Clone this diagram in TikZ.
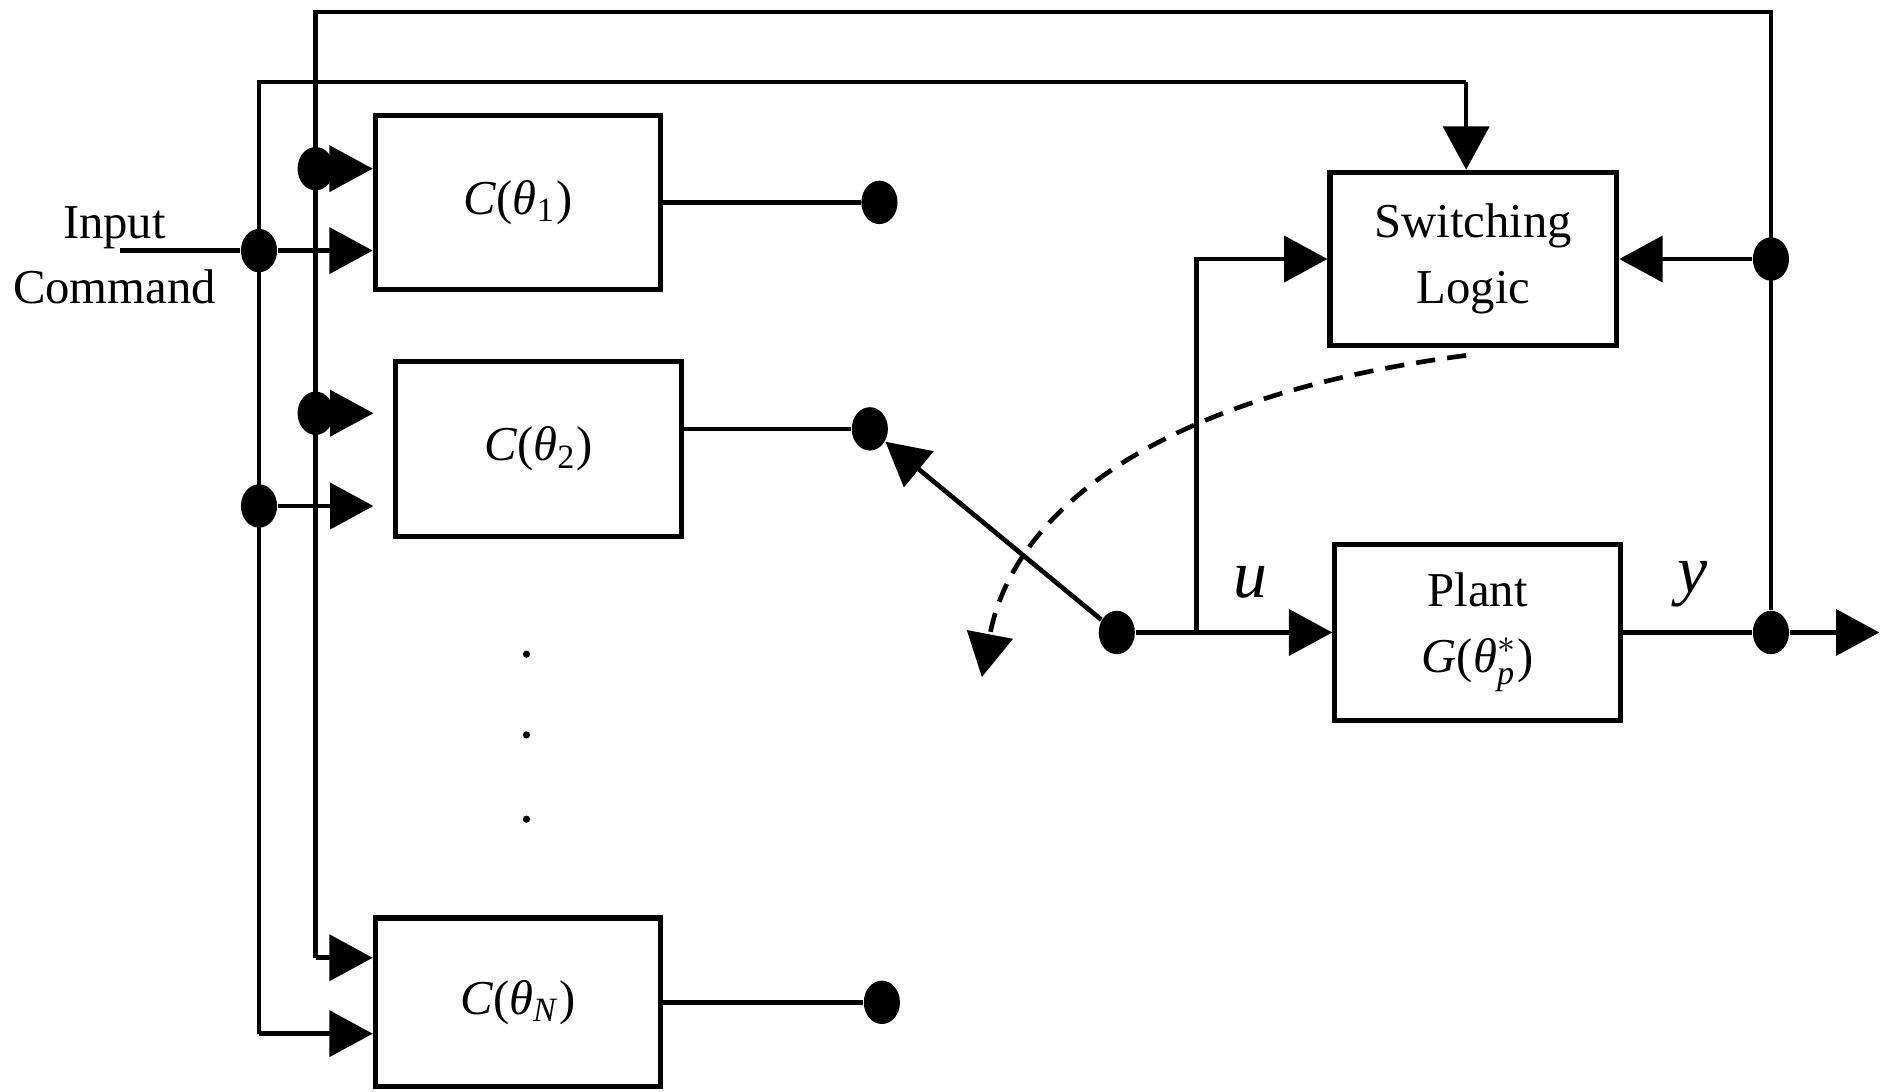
\documentclass[tikz,border=0pt]{standalone}
\usepackage{amsmath}
\usepackage{fontspec}
\setmainfont{Liberation Serif}
\usetikzlibrary{arrows.meta,shapes.geometric}
\tikzset{
  blk/.style={draw,line width=1.2pt,minimum width=2.37cm,minimum height=1.44cm,inner sep=0pt,
    font=\fontsize{11.5}{15.5}\selectfont,align=center},
  dot/.style={ellipse,fill,inner sep=0pt,minimum width=0.3cm,minimum height=0.36cm},
  sig/.style={line width=1.1pt},
  arr/.style={sig,-{Triangle[length=0.36cm,width=0.38cm]}},
}
\begin{document}
\begin{tikzpicture}
\useasboundingbox (0,0) rectangle (15.68,-9.06);
% blocks
\path (4.30,-1.68) node[blk] (C1) {\textit{C}(\textit{θ}\textsubscript{1})}
  (4.47,-3.725) node[blk,minimum width=2.38cm,minimum height=1.45cm] (C2) {\textit{C}(\textit{θ}\textsubscript{2})}
  (4.30,-8.32) node[blk,minimum height=1.40cm] (CN) {\textit{C}(\textit{θ}\textsubscript{\textit{N}})}
  (12.23,-2.15) node[blk,minimum width=2.38cm] (SL) {Switching\\Logic}
  (12.265,-5.25) node[blk,minimum height=1.46cm] (P) {Plant\\\textit{G}(\textit{θ}$_{\textit{p}}^{*}$)};
\node[align=center,font=\fontsize{11.5}{15.5}\selectfont] (ic) at (0.95,-2.12) {Input\\Command};
% corners and free ends
\path (1.00,-2.08) coordinate (in)
  (2.62,-0.10) coordinate (tl)
  (14.70,-0.10) coordinate (tr)
  (2.15,-0.68) coordinate (ml)
  (12.17,-0.68) coordinate (mr)
  (2.62,-7.95) coordinate (b1)
  (2.15,-8.58) coordinate (b2)
  (3.10,-3.43) coordinate (c2a)
  (3.10,-4.20) coordinate (c2b)
  (9.93,-5.25) coordinate (uj)
  (15.60,-5.25) coordinate (out)
  (12.17,-2.95) coordinate (ds)
  (8.15,-5.62) coordinate (de);
% junctions
\path (2.15,-2.08) node[dot] (j1) {}
  (2.15,-4.20) node[dot] (j2) {}
  (2.62,-1.40) node[dot] (k1) {}
  (2.62,-3.43) node[dot] (k2) {}
  (7.30,-1.68) node[dot] (o1) {}
  (7.22,-3.56) node[dot] (o2) {}
  (7.32,-8.32) node[dot] (oN) {}
  (9.27,-5.25) node[dot] (pole) {}
  (14.70,-2.15) node[dot] (ys) {}
  (14.70,-5.25) node[dot] (yo) {};
% buses
\draw[sig] (b1) -- (tl) -- (tr) -- (yo);
\draw[sig] (b2) -- (ml) -- (mr);
\draw[arr] (mr) -- (mr |- SL.north);
\draw[sig] (in) -- (j1);
\draw[arr] (j1) -- (C1.west |- j1);
\draw[arr] (k1) -- (C1.west |- k1);
\draw[arr] (k2) -- (c2a);
\draw[arr] (j2) -- (c2b);
\draw[arr] (b1) -- (CN.west |- b1);
\draw[arr] (b2) -- (CN.west |- b2);
% controller outputs
\draw[sig] (C1.east) -- (o1);
\draw[sig] (C2.east |- o2) -- (o2);
\draw[sig] (CN.east) -- (oN);
\foreach \y in {5.43,6.10,6.80}{
  \fill (4.37,-\y) circle (0.03);
}
% switch and plant
\draw[arr] (pole) -- (o2);
\draw[arr] (pole) -- (P.west);
\draw[arr] (uj) |- (SL.west);
\draw[arr] (ys) -- (SL.east);
\draw[sig] (P.east) -- (yo);
\draw[arr] (yo) -- (out);
\draw[arr,dash pattern=on 0.16cm off 0.1cm] (ds) .. controls (9.50,-3.30) and (8.40,-4.30) .. (de);
\node[font=\fontsize{16}{18}\selectfont\itshape] (u) at (10.38,-4.83) {u};
\node[font=\fontsize{16}{18}\selectfont\itshape] (y) at (14.05,-4.85) {y};
\end{tikzpicture}
\end{document}
